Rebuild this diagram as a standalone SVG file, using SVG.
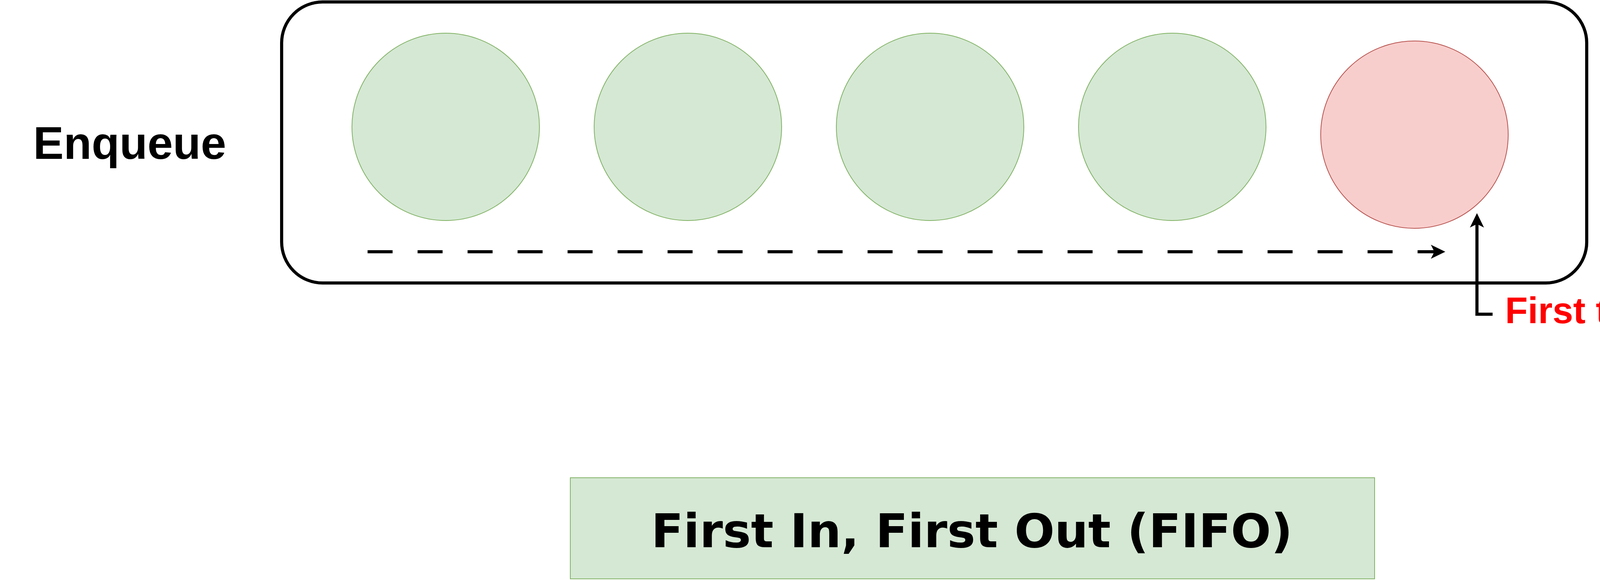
<svg xmlns="http://www.w3.org/2000/svg" width="4800" height="1486" viewBox="0 0 4800 1486">
<style>
.bg{fill:#ffffff}
.green{fill:#d5e8d4;stroke:#82b366;stroke-width:2}
.red{fill:#f8cecc;stroke:#b85450;stroke-width:2}
.queue{fill:none;stroke:#000000;stroke-width:8}
.lbl{font-family:"Liberation Sans",Arial,Helvetica,sans-serif;font-weight:bold;font-size:117px;fill:#000000}
.note{font-family:"Liberation Sans",Arial,Helvetica,sans-serif;font-weight:bold;font-size:95px;fill:#ff0000}
.title{font-family:"DejaVu Sans",Verdana,sans-serif;font-weight:bold;font-size:120px;fill:#000000}
.conn{fill:none;stroke:#000000;stroke-width:8}
</style>
<defs>
<marker id="arr" markerUnits="userSpaceOnUse" markerWidth="44" markerHeight="44" viewBox="-40 -22 44 44" refX="-10" refY="0" orient="auto">
<path d="M0,0 L-37,-18 L-28,0 L-37,18 Z" fill="#000000"/>
</marker>
</defs>
<rect class="bg" x="0" y="0" width="4800" height="1486"/>
<g id="queue">
<rect class="queue" x="721" y="5" width="3341" height="720" rx="105" ry="105"/>
</g>
<g id="item1"><circle class="green" cx="1141" cy="325" r="240"/></g>
<g id="item2"><circle class="green" cx="1761" cy="325" r="240"/></g>
<g id="item3"><circle class="green" cx="2381" cy="325" r="240"/></g>
<g id="item4"><circle class="green" cx="3001" cy="325" r="240"/></g>
<g id="item5"><circle class="red" cx="3621" cy="345" r="240"/></g>
<g id="enqueue"><text class="lbl" x="332" y="407" text-anchor="middle">Enqueue</text></g>
<g id="dequeue"><text class="lbl" x="4431" y="405" text-anchor="middle">Dequeue</text></g>
<g id="connectors">
<path class="conn" d="M941,645 L3690,645" stroke-dasharray="64 64" marker-end="url(#arr)"/>
<path class="conn" d="M3821,805 L3781,805 L3781,556" marker-end="url(#arr)"/>
</g>
<g id="note"><text class="note" x="3853" y="828">First to be deleted</text></g>
<g id="fifo">
<rect class="green" x="1460" y="1224" width="2059" height="259"/>
<text class="title" x="2488" y="1402" text-anchor="middle" textLength="1642" lengthAdjust="spacingAndGlyphs">First In, First Out (FIFO)</text>
</g>
</svg>
